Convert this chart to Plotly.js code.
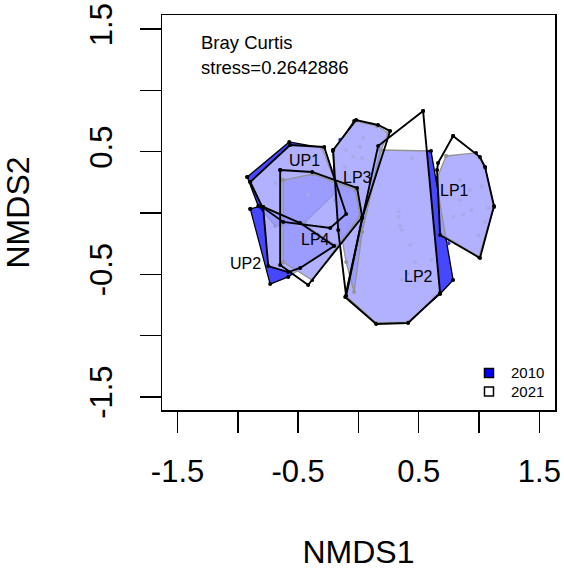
<!DOCTYPE html>
<html>
<head>
<meta charset="utf-8">
<script src="https://cdn.plot.ly/plotly-3.0.1.min.js"></script>
<style>html,body{margin:0;padding:0;background:#fff;}#chart{width:564px;height:570px;}</style>
</head>
<body>
<div id="chart"></div>
<script>
// ---- Hull vertices (NMDS1, NMDS2) ----
const up1_2010_x = [-0.922, -0.574, -0.301, -0.168, -0.442, -0.690, -0.831];
const up1_2010_y = [ 0.294,  0.580,  0.531,  0.188, -0.073, -0.106,  0.057];
const up1_2021_x = [-0.897, -0.566, -0.284, -0.102, -0.234, -0.624, -0.798];
const up1_2021_y = [ 0.253,  0.555,  0.539, -0.008, -0.122, -0.073,  0.049];

const up2_2010_x = [-0.897, -0.806, -0.483, -0.193, -0.582, -0.732];
const up2_2010_y = [ 0.033,  0.057, -0.073, -0.261, -0.522, -0.580];
const up2_2021_x = [-0.790, -0.483, -0.201, -0.483, -0.582, -0.748];
const up2_2021_y = [ 0.049, -0.082, -0.269, -0.449, -0.482, -0.433];

const lp1_2010_x = [0.727, 0.975, 1.050, 1.124, 0.999, 0.685, 0.652];
const lp1_2010_y = [0.465, 0.490, 0.367, 0.049, -0.359, -0.171, 0.286];
const lp1_2021_x = [0.785, 1.008, 1.050, 1.124, 1.008, 0.677, 0.652, 0.660];
const lp1_2021_y = [0.629, 0.457, 0.375, 0.057, -0.367, -0.180, 0.351, 0.408];

const lp2_2010_x = [0.180, 0.602, 0.785, 0.677, 0.412, 0.147, -0.102];
const lp2_2010_y = [0.514, 0.506, -0.547, -0.661, -0.890, -0.898, -0.678];
const lp2_2021_x = [0.536, 0.677, 0.412, 0.147, -0.110, 0.163];
const lp2_2021_y = [0.833, -0.653, -0.898, -0.906, -0.686, 0.547];

const lp3_2010_x = [-0.210, -0.036, 0.155, 0.246, 0.188, 0.031, -0.036, -0.102, -0.193];
const lp3_2010_y = [ 0.506,  0.751, 0.710, 0.653, 0.514, -0.155, -0.645, -0.400, 0.106];
const lp3_2021_x = [-0.210, -0.019, 0.163, 0.263, 0.031, -0.102, -0.168];
const lp3_2021_y = [ 0.514,  0.759, 0.718, 0.669, -0.041, -0.678, -0.139];

const lp4_2010_x = [-0.624, -0.375, -0.027, 0.014, -0.384, -0.624];
const lp4_2010_y = [ 0.269,  0.318,  0.188, -0.024, -0.547, -0.400];
const lp4_2021_x = [-0.649, -0.384, -0.011, 0.031, -0.417, -0.649];
const lp4_2021_y = [ 0.351,  0.335,  0.204, -0.033, -0.588, -0.424];

// ---- Site scores (faint points) ----
const siteX = [-0.151, -0.102, -0.044, 0.028, 0.039, -0.110, 0.014,
               0.445, 0.331, 0.361, 0.429, 0.469, 0.361, 0.605, 0.412, 0.620, 0.334, 0.345,
               0.842, 0.925, 1.022, 0.842, 0.939, 1.077, 0.787, 0.869, 1.050, 0.994, 0.746,
               -0.690, -0.500, -0.420];
const siteY = [ 0.597,  0.515,  0.460,  0.446,  0.613,  0.378,  0.540,
                0.446, -0.030, -0.139, -0.261, -0.398, -0.544, -0.384, -0.495, -0.683, 0.012, -0.102,
                0.269,  0.188,  0.216,  0.106,  0.024,  0.038, -0.030, -0.014, -0.071, -0.180, -0.247,
                0.245, -0.100, 0.150];

// ---- Group labels ----
const groupNames = ['UP1', 'LP3', 'LP4', 'UP2', 'LP2', 'LP1'];
const labelX = [-0.444, -0.008, -0.353, -0.939, 0.500, 0.793];
const labelY = [ 0.430,  0.291, -0.220, -0.416, -0.520, 0.182];

const years = ['2010', '2021'];
const stressText = 'stress=0.2642886';
const distText = 'Bray Curtis';

const xTicks = [-1.5, -1.0, -0.5, 0, 0.5, 1.0, 1.5];
const xTickText = ['-1.5', '', '-0.5', '', '0.5', '', '1.5'];
const yTicks = [-1.5, -1.0, -0.5, 0, 0.5, 1.0, 1.5];
const yTickText = ['-1.5', '', '-0.5', '', '0.5', '', '1.5'];

// ---- Build traces ----
function closeRing(a) { return a.concat([a[0]]); }
function oriented(xs, ys) {
  let s = 0;
  for (let i = 0; i < xs.length; i++) {
    const j = (i + 1) % xs.length;
    s += xs[i] * ys[j] - xs[j] * ys[i];
  }
  return s < 0 ? [xs.slice().reverse(), ys.slice().reverse()] : [xs, ys];
}
function hull2010(xs, ys, name) {
  return {
    type: 'scatter', mode: 'lines+markers', x: closeRing(xs), y: closeRing(ys),
    fill: 'toself', fillcolor: 'rgba(0,0,255,0.72)', name: name, showlegend: false, hoverinfo: 'skip',
    line: { color: '#000', width: 1.3 }, marker: { color: '#000', size: 4 }
  };
}
function outline2021(xs, ys, name) {
  return {
    type: 'scatter', mode: 'lines+markers', x: closeRing(xs), y: closeRing(ys),
    name: name, showlegend: false, hoverinfo: 'skip',
    line: { color: '#000', width: 1.9 }, marker: { color: '#000', size: 4 }
  };
}

const hulls2010 = [
  [up1_2010_x, up1_2010_y, 'UP1'], [up2_2010_x, up2_2010_y, 'UP2'],
  [lp1_2010_x, lp1_2010_y, 'LP1'], [lp2_2010_x, lp2_2010_y, 'LP2'],
  [lp3_2010_x, lp3_2010_y, 'LP3'], [lp4_2010_x, lp4_2010_y, 'LP4']
];
const hulls2021 = [
  [up1_2021_x, up1_2021_y, 'UP1'], [up2_2021_x, up2_2021_y, 'UP2'],
  [lp1_2021_x, lp1_2021_y, 'LP1'], [lp2_2021_x, lp2_2021_y, 'LP2'],
  [lp3_2021_x, lp3_2021_y, 'LP3'], [lp4_2021_x, lp4_2021_y, 'LP4']
];

// one white veil for all 2021 hulls (one path, so overlaps are not doubled)
const veilX = [], veilY = [];
hulls2021.forEach(h => {
  const [ox, oy] = oriented(h[0], h[1]);
  veilX.push(...closeRing(ox), null);
  veilY.push(...closeRing(oy), null);
});

const traces = [];
hulls2010.forEach(h => traces.push(hull2010(h[0], h[1], h[2] + ' 2010')));
traces.push({ type: 'scatter', mode: 'markers', x: siteX, y: siteY, showlegend: false, hoverinfo: 'skip',
  marker: { color: 'rgb(50,50,200)', size: 4 } });
traces.push({ type: 'scatter', mode: 'none', x: veilX, y: veilY, fill: 'toself',
  fillcolor: 'rgba(255,255,255,0.58)', connectgaps: false, showlegend: false, hoverinfo: 'skip' });
hulls2021.forEach(h => traces.push(outline2021(h[0], h[1], h[2] + ' 2021')));

const FONT = 'Liberation Sans, Arial, sans-serif';
const annotations = groupNames.map((g, i) => ({
  x: labelX[i], y: labelY[i], xref: 'x', yref: 'y', text: g, showarrow: false,
  font: { family: FONT, size: 16, color: '#000' }
}));
annotations.push({ x: -1.32, y: 1.388, xref: 'x', yref: 'y', text: distText, showarrow: false,
  xanchor: 'left', yanchor: 'middle', font: { family: FONT, size: 18.5, color: '#000' } });
annotations.push({ x: -1.32, y: 1.19, xref: 'x', yref: 'y', text: stressText, showarrow: false,
  xanchor: 'left', yanchor: 'middle', font: { family: FONT, size: 18.5, color: '#000' } });
// legend text
annotations.push({ x: 0.8825, y: 0.0937, xref: 'paper', yref: 'paper', text: years[0], showarrow: false,
  xanchor: 'left', yanchor: 'middle', font: { family: FONT, size: 15, color: '#000' } });
annotations.push({ x: 0.8825, y: 0.0468, xref: 'paper', yref: 'paper', text: years[1], showarrow: false,
  xanchor: 'left', yanchor: 'middle', font: { family: FONT, size: 15, color: '#000' } });

const shapes = [
  { type: 'rect', xref: 'paper', yref: 'paper', x0: 0.8206, x1: 0.8435, y0: 0.0823, y1: 0.1051,
    fillcolor: '#0000ff', line: { color: '#000', width: 1.5 } },
  { type: 'rect', xref: 'paper', yref: 'paper', x0: 0.8206, x1: 0.8435, y0: 0.0354, y1: 0.0582,
    fillcolor: '#ffffff', line: { color: '#000', width: 1.5 } }
];

const axisCommon = {
  tickmode: 'array', ticks: 'outside', ticklen: 21, tickwidth: 1.5, tickcolor: '#000',
  showline: true, mirror: true, linecolor: '#000', linewidth: 1.5,
  showgrid: false, zeroline: false, automargin: false,
  tickfont: { family: FONT, size: 31, color: '#000' }
};

const layout = {
  width: 564, height: 570,
  margin: { l: 162, r: 9, t: 15, b: 160 },
  paper_bgcolor: '#fff', plot_bgcolor: '#fff',
  showlegend: false,
  xaxis: Object.assign({}, axisCommon, {
    range: [-1.629, 1.630], tickvals: xTicks, ticktext: xTickText,
    ticklabelstandoff: 12,
    title: { text: 'NMDS1', font: { family: FONT, size: 32, color: '#000' }, standoff: 72 }
  }),
  yaxis: Object.assign({}, axisCommon, {
    range: [-1.608, 1.616], tickvals: yTicks, ticktext: yTickText, tickangle: -90,
    ticklabelstandoff: 15,
    title: { text: 'NMDS2', font: { family: FONT, size: 32, color: '#000' }, standoff: 49 }
  }),
  annotations: annotations,
  shapes: shapes
};

Plotly.newPlot('chart', traces, layout, { staticPlot: true, displayModeBar: false });
</script>
</body>
</html>
